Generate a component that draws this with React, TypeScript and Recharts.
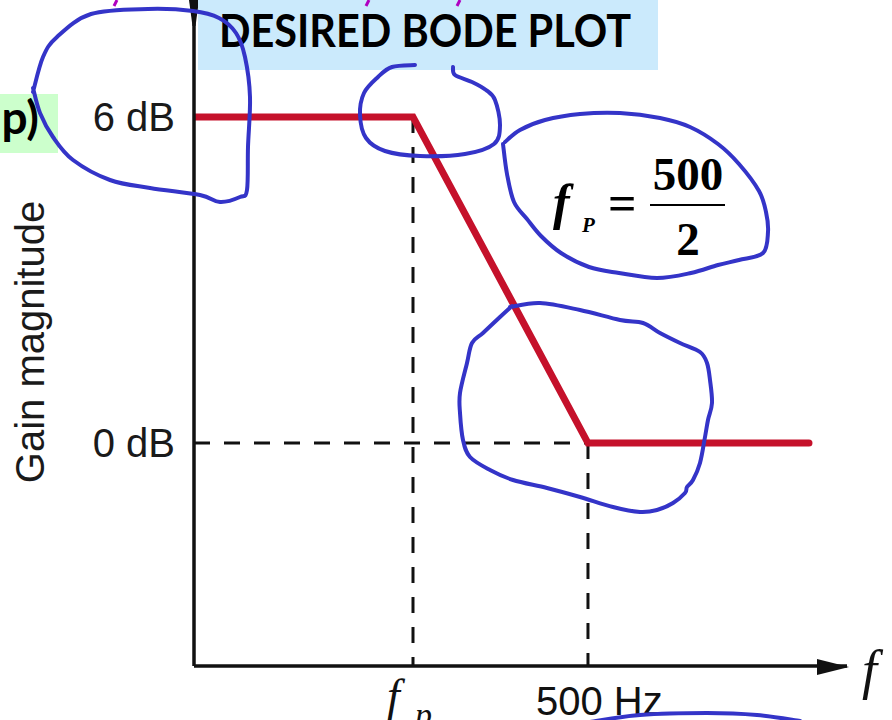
import React from 'react';
import { LineChart, Line, XAxis, YAxis, ReferenceLine } from 'recharts';

// asymptotic Bode magnitude: flat 6 dB, rolls off between f_p and 500 Hz, flat 0 dB after
const freqHz = [105, 250, 500, 1200];
const gainDb = [6, 6, 0, 0];
const cornerHz = 250;
const breakHz = 500;
const xTicks = [250, 500];
const xTickLabels = ['f_p', '500 Hz'];
const yTicks = [0, 6];
const yTickLabels = ['0 dB', '6 dB'];

const data = freqHz.map((f, i) => ({ f, g: gainDb[i] }));

const W = 892;
const H = 720;
const RED = '#c5112b';
const INK = '#111';
const PEN = '#3434c8';

// hand-drawn pen marks on the slide (annotation overlay, not data)
const scribbles: [number, number][][] = [
  [[33, 92], [43, 57], [57, 37], [91, 14], [148, 9], [193, 11], [219, 18], [236, 33], [245, 57], [250, 97],
   [248, 147], [247, 190], [240, 197], [220, 202], [200, 195], [150, 188], [110, 180], [73, 160], [53, 137],
   [40, 113], [33, 88]],
  [[415, 65], [392, 67], [378, 77], [364, 93], [360, 115], [366, 138], [385, 151], [420, 156], [465, 154],
   [494, 144], [500, 125], [495, 100], [486, 90], [472, 82], [455, 75], [453, 67]],
  [[503, 144], [507, 174], [514, 202], [527, 219], [541, 236], [561, 253], [589, 267], [619, 273], [657, 278],
   [691, 273], [718, 265], [739, 260], [763, 253], [768, 232], [766, 212], [759, 191], [739, 164], [718, 144],
   [690, 127], [660, 118], [620, 113], [580, 114], [545, 120], [520, 130], [505, 142]],
  [[510, 307], [540, 303], [580, 310], [620, 320], [643, 323], [660, 333], [680, 343], [700, 352], [707, 363],
   [710, 380], [712, 403], [708, 420], [705, 437], [700, 463], [693, 480], [687, 487], [685, 493], [673, 503],
   [657, 510], [640, 512], [613, 507], [580, 497], [547, 488], [513, 480], [490, 470], [470, 457], [463, 440],
   [460, 413], [460, 393], [467, 363], [472, 343], [483, 333], [500, 317], [512, 306]],
  [[590, 722], [640, 715], [707, 713], [757, 715], [800, 721]],
];

function smoothPath(pts: [number, number][]) {
  let d = `M${pts[0][0]},${pts[0][1]}`;
  for (let i = 0; i < pts.length - 1; i++) {
    const p0 = pts[i - 1] || pts[i];
    const p1 = pts[i];
    const p2 = pts[i + 1];
    const p3 = pts[i + 2] || p2;
    const c1x = p1[0] + (p2[0] - p0[0]) / 6;
    const c1y = p1[1] + (p2[1] - p0[1]) / 6;
    const c2x = p2[0] - (p3[0] - p1[0]) / 6;
    const c2y = p2[1] - (p3[1] - p1[1]) / 6;
    d += ` C${c1x},${c1y} ${c2x},${c2y} ${p2[0]},${p2[1]}`;
  }
  return d;
}

function FreqTick({ x, y, index }: any) {
  const label = xTickLabels[index];
  if (label === 'f_p') {
    return (
      <g>
        <text x={x - 26} y={y + 45} fontFamily="Liberation Serif" fontStyle="italic" fontSize={46} fill={INK}>f</text>
        <text x={x + 2} y={y + 60} fontFamily="Liberation Serif" fontStyle="italic" fontSize={34} fill={INK}>p</text>
      </g>
    );
  }
  return (
    <text x={x - 52} y={y + 49} fontFamily="Liberation Sans" fontSize={40} fill={INK}>{label}</text>
  );
}

function GainTick({ x, y, index }: any) {
  return (
    <text x={x - 19} y={y + 14} textAnchor="end" fontFamily="Liberation Sans" fontSize={40} fill="#1a1a1a">
      {yTickLabels[index]}
    </text>
  );
}

export default function App() {
  return (
    <div style={{ position: 'absolute', top: 0, left: 0, width: W, height: H, overflow: 'hidden', background: '#fff' }}>
      <LineChart width={W} height={H} data={data} margin={{ top: 0, right: 45, bottom: 0, left: 0 }}>
        <XAxis
          dataKey="f"
          type="number"
          scale="log"
          domain={[105, 1395]}
          allowDataOverflow
          ticks={xTicks}
          tick={<FreqTick />}
          tickLine={false}
          tickSize={0}
          tickMargin={0}
          height={54}
          axisLine={{ stroke: INK, strokeWidth: 3.5 }}
        />
        <YAxis
          type="number"
          domain={[-4.1, 8.15]}
          allowDataOverflow
          ticks={yTicks}
          tick={<GainTick />}
          tickLine={false}
          tickSize={0}
          tickMargin={0}
          width={194}
          axisLine={{ stroke: INK, strokeWidth: 3.5 }}
        />
        <ReferenceLine
          segment={[{ x: freqHz[0], y: 0 }, { x: breakHz, y: 0 }]}
          stroke={INK} strokeWidth={3} strokeDasharray="16 14" ifOverflow="visible"
        />
        <ReferenceLine
          segment={[{ x: cornerHz, y: 6 }, { x: cornerHz, y: -4.1 }]}
          stroke={INK} strokeWidth={3} strokeDasharray="16 14" ifOverflow="visible"
        />
        <ReferenceLine
          segment={[{ x: breakHz, y: 0 }, { x: breakHz, y: -4.1 }]}
          stroke={INK} strokeWidth={3} strokeDasharray="16 14" ifOverflow="visible"
        />
        <Line
          type="linear"
          dataKey="g"
          stroke={RED}
          strokeWidth={7}
          strokeLinecap="round"
          strokeLinejoin="miter"
          dot={false}
          activeDot={false}
          isAnimationActive={false}
        />
      </LineChart>

      <svg width={W} height={H} style={{ position: 'absolute', top: 0, left: 0, pointerEvents: 'none' }}>
        {/* axis arrowheads */}
        <polygon points="817,659 849,667 817,675" fill={INK} />
        <polygon points="189,0 199,0 195.5,26 192.5,26" fill={INK} />
        <text x={862} y={688} fontFamily="Liberation Serif" fontStyle="italic" fontSize={54} fill={INK}>f</text>

        {/* y-axis title */}
        <text transform="translate(44,342) rotate(-90)" textAnchor="middle" fontFamily="Liberation Sans" fontSize={40} fill="#1a1a1a">
          Gain magnitude
        </text>

        {/* slide title */}
        <rect x={198} y={0} width={460} height={70} fill="#cbeafc" />
        <text x={219} y={47} fontFamily="Lato" fontWeight={700} fontSize={45} textLength={412} lengthAdjust="spacingAndGlyphs" fill="#000">
          DESIRED BODE PLOT
        </text>
        <rect x={0} y={94} width={58} height={59} fill="#ccffcc" />
        <text x={39} y={134} textAnchor="end" style={{ fontFamily: 'Lato', fontWeight: 700, fontSize: 46 }} fill="#000">p)</text>

        {/* magenta ink ticks at top edge */}
        <line x1={117} y1={0} x2={114} y2={6} stroke="#b000c0" strokeWidth={3} />
        <line x1={369} y1={0} x2={366} y2={6} stroke="#b000c0" strokeWidth={3} />
        <line x1={460} y1={0} x2={457} y2={6} stroke="#b000c0" strokeWidth={3} />

        {/* f_P = 500 / 2 */}
        <text x={553} y={219} fontFamily="Liberation Serif" fontStyle="italic" fontWeight={700} fontSize={50} fill="#000">f</text>
        <text x={582} y={232} fontFamily="Liberation Serif" fontStyle="italic" fontWeight={700} fontSize={21} fill="#000">P</text>
        <text x={608} y={220} fontFamily="Liberation Serif" fontWeight={700} fontSize={50} fill="#000">=</text>
        <text x={688} y={190} textAnchor="middle" fontFamily="Liberation Serif" fontWeight={700} fontSize={47} fill="#000">500</text>
        <line x1={650} y1={205} x2={725} y2={205} stroke="#000" strokeWidth={2} />
        <text x={688} y={255} textAnchor="middle" fontFamily="Liberation Serif" fontWeight={700} fontSize={47} fill="#000">2</text>

        {scribbles.map((pts, i) => (
          <path key={i} d={smoothPath(pts)} fill="none" stroke={PEN} strokeWidth={4} strokeLinecap="round" strokeLinejoin="round" />
        ))}
      </svg>
    </div>
  );
}
